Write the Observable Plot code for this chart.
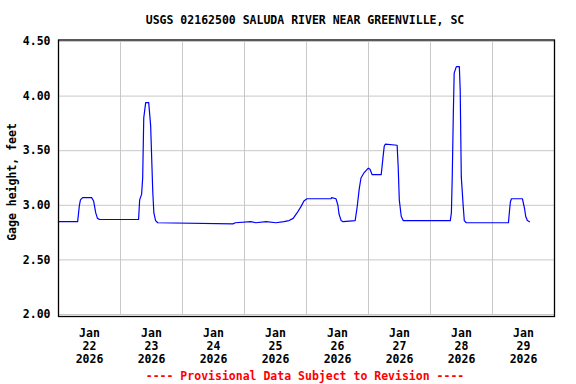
<!DOCTYPE html>
<html>
<head>
<meta charset="utf-8">
<script src="https://cdn.jsdelivr.net/npm/d3@7"></script>
<script src="https://cdn.jsdelivr.net/npm/@observablehq/plot@0.6"></script>
<style>
  html, body { margin: 0; padding: 0; background: #fff; }
  #chart { width: 576px; height: 384px; }
</style>
</head>
<body>
<div id="chart"></div>
<script>
const title = "USGS 02162500 SALUDA RIVER NEAR GREENVILLE, SC";
const yLabel = "Gage height, feet";
const caption = "---- Provisional Data Subject to Revision ----";

const times = [
  "2026-01-22T00:00Z","2026-01-22T07:25Z","2026-01-22T08:05Z","2026-01-22T08:30Z","2026-01-22T09:20Z",
  "2026-01-22T12:50Z","2026-01-22T13:35Z","2026-01-22T14:25Z","2026-01-22T15:05Z","2026-01-22T15:55Z",
  "2026-01-23T07:00Z","2026-01-23T07:25Z","2026-01-23T08:10Z","2026-01-23T08:35Z","2026-01-23T09:00Z",
  "2026-01-23T09:45Z","2026-01-23T10:55Z","2026-01-23T11:40Z","2026-01-23T12:30Z","2026-01-23T12:55Z",
  "2026-01-23T13:35Z","2026-01-23T14:25Z",
  "2026-01-24T19:30Z","2026-01-24T20:30Z","2026-01-25T02:30Z","2026-01-25T04:25Z","2026-01-25T08:20Z",
  "2026-01-25T12:10Z","2026-01-25T15:15Z","2026-01-25T17:15Z","2026-01-25T18:50Z","2026-01-25T20:20Z",
  "2026-01-25T21:55Z","2026-01-25T23:00Z","2026-01-26T00:10Z","2026-01-26T09:30Z","2026-01-26T09:45Z",
  "2026-01-26T11:25Z","2026-01-26T12:10Z","2026-01-26T12:35Z","2026-01-26T13:25Z","2026-01-26T14:10Z",
  "2026-01-26T18:50Z","2026-01-26T19:35Z","2026-01-26T20:25Z","2026-01-26T21:05Z","2026-01-26T22:20Z",
  "2026-01-26T23:55Z","2026-01-27T00:35Z","2026-01-27T01:25Z","2026-01-27T04:55Z","2026-01-27T05:40Z",
  "2026-01-27T06:05Z","2026-01-27T06:30Z","2026-01-27T11:05Z","2026-01-27T11:30Z","2026-01-27T11:55Z",
  "2026-01-27T12:40Z","2026-01-27T13:25Z","2026-01-28T07:40Z","2026-01-28T08:05Z","2026-01-28T08:25Z",
  "2026-01-28T08:50Z","2026-01-28T09:10Z","2026-01-28T10:00Z","2026-01-28T11:10Z","2026-01-28T11:30Z",
  "2026-01-28T11:55Z","2026-01-28T12:40Z","2026-01-28T13:05Z","2026-01-28T13:50Z","2026-01-29T06:10Z",
  "2026-01-29T06:35Z","2026-01-29T06:55Z","2026-01-29T07:20Z","2026-01-29T11:35Z","2026-01-29T12:25Z",
  "2026-01-29T12:50Z","2026-01-29T13:30Z","2026-01-29T14:20Z"
];
const heights = [
  2.85, 2.85, 3.00, 3.05, 3.07,
  3.07, 3.04, 2.93, 2.88, 2.87,
  2.87, 3.05, 3.10, 3.25, 3.80,
  3.94, 3.94, 3.73, 3.12, 2.93,
  2.86, 2.84,
  2.83, 2.84, 2.85, 2.84, 2.85,
  2.84, 2.85, 2.86, 2.88, 2.93,
  2.99, 3.04, 3.06, 3.06, 3.07,
  3.06, 3.00, 2.92, 2.86, 2.85,
  2.86, 2.98, 3.15, 3.25, 3.30,
  3.34, 3.33, 3.28, 3.28, 3.45,
  3.54, 3.56, 3.55, 3.35, 3.05,
  2.90, 2.86, 2.86, 2.93, 3.26,
  3.84, 4.21, 4.27, 4.27, 4.05,
  3.26, 2.99, 2.86, 2.84, 2.84,
  2.95, 3.03, 3.06, 3.06, 2.97,
  2.90, 2.86, 2.85
];

const xDomain = ["2026-01-22T00:00Z", "2026-01-30T00:00Z"];
const gridDays = ["2026-01-23T00:00Z","2026-01-24T00:00Z","2026-01-25T00:00Z","2026-01-26T00:00Z",
                  "2026-01-27T00:00Z","2026-01-28T00:00Z","2026-01-29T00:00Z"];
const labelDays = ["2026-01-22T12:00Z","2026-01-23T12:00Z","2026-01-24T12:00Z","2026-01-25T12:00Z",
                   "2026-01-26T12:00Z","2026-01-27T12:00Z","2026-01-28T12:00Z","2026-01-29T12:00Z"];
const yTicks = [2.0, 2.5, 3.0, 3.5, 4.0, 4.5];

const data = times.map((t, i) => ({t: new Date(t), h: heights[i]}));
const months = ["Jan","Feb","Mar","Apr","May","Jun","Jul","Aug","Sep","Oct","Nov","Dec"];
const font = "'DejaVu Sans Mono', monospace";

const chart = Plot.plot({
  width: 576,
  height: 384,
  marginTop: 41,
  marginBottom: 70,
  marginLeft: 58,
  marginRight: 22,
  style: {fontFamily: font, fontWeight: "bold", fontSize: "11.5px", color: "#000", background: "#fff"},
  x: {type: "utc", domain: xDomain.map(d => new Date(d))},
  y: {domain: [2, 4.5]},
  marks: [
    Plot.gridX(gridDays.map(d => new Date(d)), {stroke: "#c8c8c8", strokeOpacity: 1, strokeWidth: 1}),
    Plot.gridY(yTicks, {stroke: "#c8c8c8", strokeOpacity: 1, strokeWidth: 1}),
    Plot.axisX(labelDays.map(d => new Date(d)), {
      tickSize: 0, tickPadding: 13, lineHeight: 1.13, label: null,
      tickFormat: d => `${months[d.getUTCMonth()]}\n${d.getUTCDate()}\n${d.getUTCFullYear()}`
    }),
    Plot.axisY(yTicks, {tickSize: 0, tickPadding: 8, label: null, tickFormat: d => d.toFixed(2)}),
    Plot.line(data, {x: "t", y: "h", stroke: "#0000ff", strokeWidth: 1.2}),
    Plot.frame({stroke: "#000", strokeWidth: 1.3, insetTop: -1.5, insetBottom: -2})
  ]
});

const svg = d3.select(chart);
svg.append("text")
  .attr("x", 305).attr("y", 24)
  .attr("text-anchor", "middle")
  .attr("font-family", font).attr("font-weight", "bold").attr("font-size", "11.5px")
  .attr("fill", "#000")
  .text(title);
svg.append("text")
  .attr("transform", "translate(16,182) rotate(-90)")
  .attr("text-anchor", "middle")
  .attr("font-family", font).attr("font-weight", "bold").attr("font-size", "11.5px")
  .attr("fill", "#000")
  .text(yLabel);
svg.append("text")
  .attr("x", 305).attr("y", 380)
  .attr("text-anchor", "middle")
  .attr("font-family", font).attr("font-weight", "bold").attr("font-size", "11.5px")
  .attr("fill", "#ff0000")
  .text(caption);

document.getElementById("chart").appendChild(chart);
</script>
</body>
</html>
